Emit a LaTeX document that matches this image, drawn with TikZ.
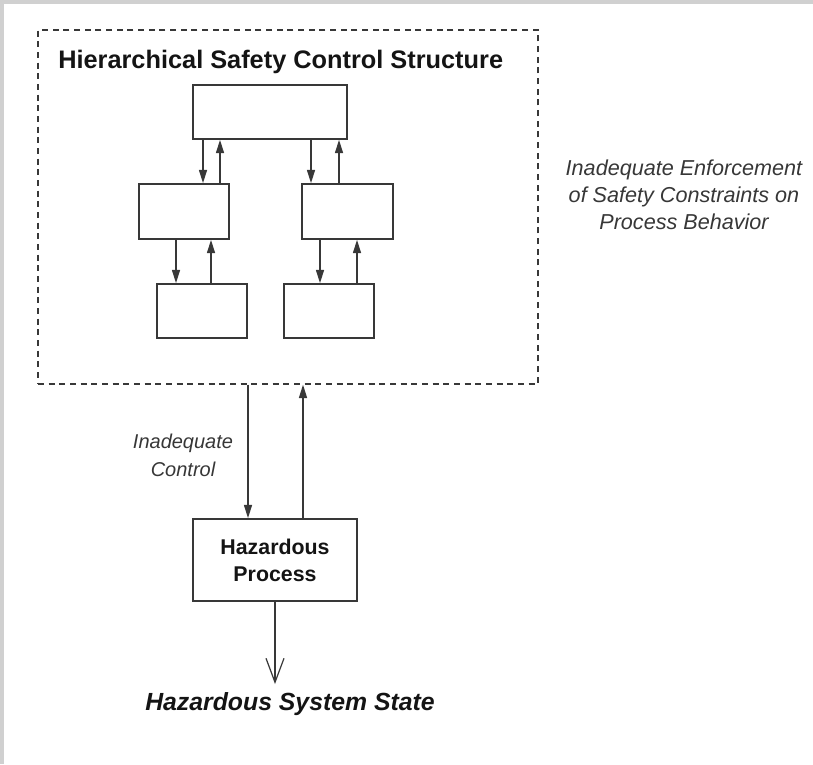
\documentclass[tikz,border=0pt]{standalone}
\usepackage{fontspec}
\setmainfont{Liberation Sans}
\usetikzlibrary{arrows.meta}
\definecolor{framegray}{HTML}{D0D0D0}
\definecolor{linec}{HTML}{383838}
\definecolor{txtc}{HTML}{141414}
\tikzset{
  px/.style={x=0.75pt,y=-0.75pt},
  blk/.style={draw=linec,line width=1.25pt,fill=white,inner sep=0pt},
  arr/.style={draw=linec,line width=1.1pt,-{Triangle[length=10pt,width=6pt]}},
  openarr/.style={draw=linec,line width=1pt,-{Straight Barb[length=18pt,width=13.5pt,line width=0.9pt]}},
  dashbox/.style={draw=linec,line width=1pt,dash pattern=on 4.5pt off 3.5pt,inner sep=0pt},
  ital/.style={text=txtc!85!white,font=\itshape},
}
\begin{document}
\begin{tikzpicture}[px]
\useasboundingbox (0,0) rectangle (813,764);
\fill[framegray] (0,0) rectangle (813,4);
\fill[framegray] (0,0) rectangle (4,764);
% dashed outer box
\node[dashbox,minimum width=375pt,minimum height=265.5pt] (hscs) at (288,207) {};
\node[anchor=base west,inner sep=0pt,font=\bfseries\fontsize{19}{22}\selectfont,text=txtc] (title) at (58,68) {Hierarchical Safety Control Structure};
% boxes
\node[blk,minimum width=115.5pt,minimum height=40.5pt] (top) at (270,112) {};
\node[blk,minimum width=67.5pt,minimum height=41.25pt] (ml) at (184,211.5) {};
\node[blk,minimum width=68.25pt,minimum height=41.25pt] (mr) at (347.5,211.5) {};
\node[blk,minimum width=67.5pt,minimum height=40.5pt] (bl) at (202,311) {};
\node[blk,minimum width=67.5pt,minimum height=40.5pt] (br) at (329,311) {};
\node[blk,minimum width=123pt,minimum height=61.5pt,align=center,font=\bfseries\fontsize{16}{20.25}\selectfont,text=txtc] (hp) at (275,560) {Hazardous\\Process};
% inner arrows
\draw[arr] (top.south -| 203,0) -- (ml.north -| 203,0);
\draw[arr] (ml.north -| 220,0) -- (top.south -| 220,0);
\draw[arr] (top.south -| 311,0) -- (mr.north -| 311,0);
\draw[arr] (mr.north -| 339,0) -- (top.south -| 339,0);
\draw[arr] (ml.south -| 176,0) -- (bl.north -| 176,0);
\draw[arr] (bl.north -| 211,0) -- (ml.south -| 211,0);
\draw[arr] (mr.south -| 320,0) -- (br.north -| 320,0);
\draw[arr] (br.north -| 357,0) -- (mr.south -| 357,0);
% outer arrows
\draw[arr] (hscs.south -| 248,0) -- (hp.north -| 248,0);
\draw[arr] (hp.north -| 303,0) -- (hscs.south -| 303,0);
\coordinate (hss) at (275,684);
\draw[openarr] (hp.south) -- (hss);
% labels
\node[ital,align=center,font=\itshape\fontsize{15}{21}\selectfont] (ic) at (183,455) {Inadequate\\Control};
\node[ital,align=center,font=\itshape\fontsize{16.2}{20.25}\selectfont] (iesc) at (684,195) {Inadequate Enforcement\\of Safety Constraints on\\Process Behavior};
\node[anchor=base,font=\bfseries\itshape\fontsize{18.6}{22}\selectfont,text=txtc] (hsst) at (290,710) {Hazardous System State};
\end{tikzpicture}
\end{document}
